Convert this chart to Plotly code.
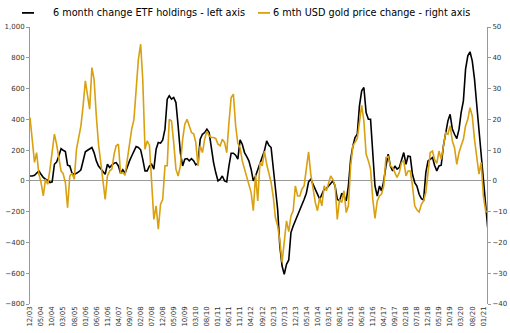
import pandas as pd
import plotly.graph_objects as go

# Monthly observations, Dec 2003 .. Mar 2021
dates = pd.date_range("2003-12-01", periods=208, freq="MS")

etf_change = [
    32, 32, 37, 54, 65, 43, 22, 11, 4, -11,
    -6, 108, 123, 162, 210, 199, 191, 102, 97, 50,
    43, 50, 58, 72, 141, 189, 199, 206, 217, 184,
    130, 97, 80, 65, 43, 108, 87, 102, 115, 119,
    97, 50, 72, 50, 97, 130, 162, 195, 223, 217,
    202, 141, 65, 65, 97, 108, 76, 206, 249, 245,
    266, 336, 531, 553, 531, 542, 509, 358, 184, 97,
    141, 145, 130, 145, 130, 104, 115, 271, 303, 314,
    336, 314, 206, 119, 54, 0, 11, 32, 0, -6,
    97, 180, 180, 167, 141, 266, 238, 184, 158, 130,
    76, 0, 32, 76, 115, 162, 195, 260, 232, 217,
    65, -54, -184, -423, -553, -607, -542, -514, -336, -293,
    -260, -228, -189, -163, -119, -80, -6, 11, -22, -65,
    -87, -119, -87, -54, -50, -33, -22, 0, -33, -119,
    -130, -80, -98, -130, -33, 141, 228, 282, 303, 488,
    585, 607, 444, 401, 401, 141, -33, -98, -33, -65,
    0, 97, 173, 97, 65, 97, 76, 87, 141, 184,
    108, 162, 158, 43, -11, -33, -87, -115, -124, 54,
    130, 141, 152, 102, 65, 97, 102, 228, 314, 390,
    433, 336, 303, 275, 336, 444, 520, 726, 813, 839,
    780, 661, 498, 325, 141, -33, -152, -303,
]

gold_change = [
    20.6, 13.6, 6.0, 9.2, 2.2, -0.5, -4.9, 0.5, -1.1, 3.8,
    9.2, 15.2, 11.9, 7.0, 3.2, 2.4, -0.5, -8.7, 1.6, 2.5,
    0.5, 10.3, 13.5, 17.9, 24.4, 32.5, 27.6, 23.3, 36.8, 33.0,
    21.1, 11.9, 6.0, 0.5, -6.0, 1.6, 3.2, 3.8, 8.7, 11.4,
    11.9, 2.5, 2.7, 1.8, 7.0, 12.5, 16.8, 20.0, 31.4, 39.5,
    44.4, 33.0, 10.3, 13.0, 11.6, -1.6, -12.5, -8.1, -15.7, -7.6,
    -6.0, 4.9, 4.9, 20.0, 19.5, 12.5, 3.8, 1.6, 4.9, 13.5,
    18.4, 20.0, 17.9, 15.7, 15.2, 12.5, 4.9, 11.4, 9.2, 13.5,
    16.2, 14.6, 14.1, 14.1, 13.8, 11.9, 11.4, 13.5, 12.5, 9.2,
    19.0, 27.1, 28.2, 17.9, 12.2, 10.8, 6.5, 3.8, 0.5, -1.1,
    -3.8, -9.7, 2.0, -6.5, 6.0, 4.9, 9.7, 5.4, 2.2, -0.5,
    -5.4, -11.9, -14.6, -19.5, -26.5, -20.0, -13.0, -16.5, -11.4, -9.7,
    -1.6, -4.9, -4.9, -2.7, -1.6, 4.0, 9.4, 2.2, -3.2, -7.0,
    -9.7, -5.4, -8.1, -1.6, -3.2, -1.1, 1.6, 0.5, -1.6, -12.5,
    -6.0, -7.0, -3.2, -10.3, -8.1, 4.9, 11.4, 12.5, 13.8, 19.0,
    24.5, 19.5, 8.7, 6.5, 3.8, -6.0, -12.2, -6.5, -4.9, -4.3,
    -1.6, 7.6, 7.9, 4.9, 4.3, 2.7, 1.1, 2.7, 6.0, 6.5,
    1.6, 3.2, 3.2, -1.6, -8.1, -9.4, -10.1, -7.6, -6.5, -3.8,
    2.2, 9.2, 9.7, 7.0, 5.7, 9.7, 7.0, 11.4, 15.7, 15.2,
    17.9, 13.0, 10.8, 5.4, 9.2, 11.4, 13.5, 17.9, 20.0, 23.8,
    21.1, 13.5, 7.0, 2.2, 6.0, -4.9, -9.7, -10.3,
]

series_names = [
    "6 month change ETF holdings - left axis",
    "6 mth USD gold price change - right axis",
]

tick_dates = pd.date_range("2003-12-01", "2021-01-01", freq="5MS")
left_ticks = list(range(-800, 1001, 200))
right_ticks = list(range(-40, 51, 10))

FONT = "DejaVu Sans"
GOLD = "#D9A00F"
BLACK = "#000000"

fig = go.Figure()
fig.add_trace(go.Scatter(
    x=dates, y=etf_change, mode="lines", name=series_names[0],
    line=dict(color=BLACK, width=1.6), showlegend=False,
))
fig.add_trace(go.Scatter(
    x=dates, y=gold_change, mode="lines", yaxis="y2", name=series_names[1],
    line=dict(color=GOLD, width=1.6), showlegend=False,
))

# Legend drawn as key lines + text above the plot area (single row)
legend_y = 1.051
keys = [(-0.0175, 0.0088, 0.046, BLACK), (0.4989, 0.5252, 0.5274, GOLD)]
for (x0, x1, xt, col), name in zip(keys, series_names):
    fig.add_shape(type="line", xref="paper", yref="paper",
                  x0=x0, x1=x1, y0=legend_y, y1=legend_y,
                  line=dict(color=col, width=1.8))
    fig.add_annotation(xref="paper", yref="paper", x=xt, y=legend_y,
                       text=name, showarrow=False, xanchor="left",
                       yanchor="middle",
                       font=dict(family=FONT, size=9.7, color="black"))

fig.update_layout(
    width=510, height=333,
    margin=dict(l=30, r=23, t=27, b=29, autoexpand=False),
    paper_bgcolor="white", plot_bgcolor="white",
    font=dict(family=FONT, size=7, color="#333"),
    showlegend=False,
    xaxis=dict(
        type="date",
        range=["2003-12-01", "2021-02-20"],
        tickvals=list(tick_dates),
        tickformat="%m/%y",
        tickangle=-90,
        showgrid=False, showline=False, zeroline=False,
        ticks="", tickfont=dict(size=7, color="#333"),
        automargin=False,
    ),
    yaxis=dict(
        range=[-800, 1000], tickvals=left_ticks,
        tickformat=",d",
        showgrid=False, zeroline=True, zerolinecolor="#999", zerolinewidth=1,
        showline=True, linecolor="#999", linewidth=1,
        ticks="outside", ticklen=3, tickcolor="#999",
        tickfont=dict(size=7, color="#333"),
        automargin=False,
    ),
    yaxis2=dict(
        range=[-40, 50], tickvals=right_ticks,
        overlaying="y", side="right",
        showgrid=False, zeroline=False,
        showline=True, linecolor="#999", linewidth=1,
        ticks="outside", ticklen=3, tickcolor="#999",
        tickfont=dict(size=7, color="#333"),
        automargin=False,
    ),
)

fig.write_html("out.html")
